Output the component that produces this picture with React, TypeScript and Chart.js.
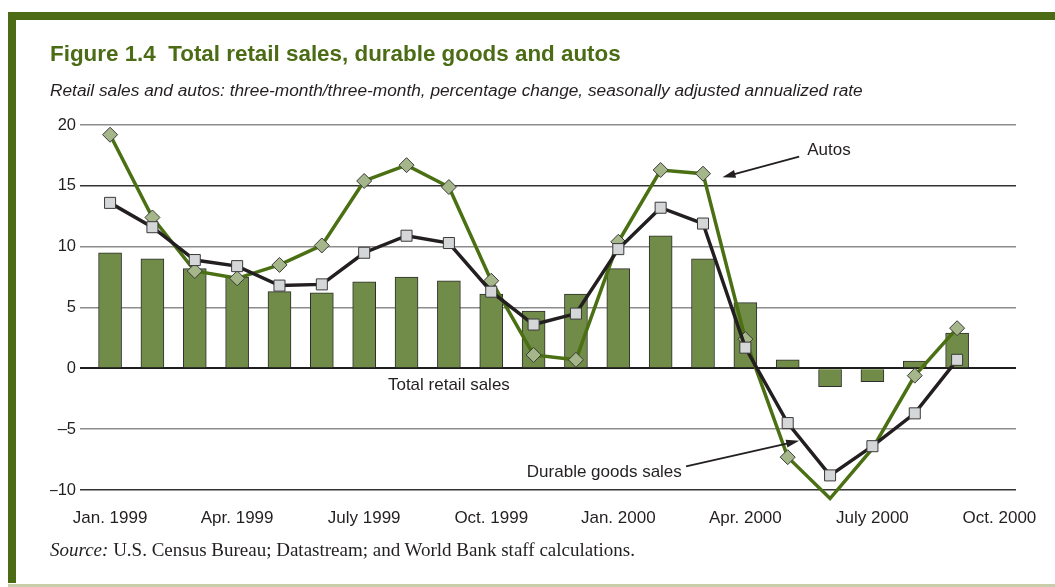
import React, { useEffect, useRef } from "react";
import { Chart, registerables } from "chart.js";

Chart.register(...registerables);

// Monthly observations, Jan. 1999 – Sep. 2000
const months = [
  "Jan. 1999", "Feb. 1999", "Mar. 1999", "Apr. 1999", "May 1999", "June 1999", "July 1999",
  "Aug. 1999", "Sep. 1999", "Oct. 1999", "Nov. 1999", "Dec. 1999", "Jan. 2000", "Feb. 2000",
  "Mar. 2000", "Apr. 2000", "May 2000", "June 2000", "July 2000", "Aug. 2000", "Sep. 2000",
];
const retailSales = [9.5, 9.0, 8.2, 7.5, 6.3, 6.2, 7.1, 7.5, 7.2, 6.1, 4.7, 6.1, 8.2, 10.9, 9.0, 5.4, 0.7, -1.5, -1.1, 0.6, 2.9];
const durableGoods = [13.6, 11.6, 8.9, 8.4, 6.8, 6.9, 9.5, 10.9, 10.3, 6.3, 3.6, 4.5, 9.8, 13.2, 11.9, 1.7, -4.5, -8.8, -6.4, -3.7, 0.7];
const autos = [19.2, 12.4, 8.0, 7.4, 8.5, 10.1, 15.4, 16.7, 14.9, 7.2, 1.1, 0.7, 10.4, 16.3, 16.0, 2.4, -7.3, -10.7, -6.6, -0.6, 3.3];
const autosHiddenMarkers = [17, 18];

const xTickMonths = [0, 3, 6, 9, 12, 15, 18, 21];
const xTickLabels = ["Jan. 1999", "Apr. 1999", "July 1999", "Oct. 1999", "Jan. 2000", "Apr. 2000", "July 2000", "Oct. 2000"];
const yTickValues = [-10, -5, 0, 5, 10, 15, 20];

const GREEN = "#4b6b14";
const TEXT = "#231f20";
const SANS = "'Liberation Sans', Arial, Helvetica, sans-serif";

const annotationPlugin = {
  id: "annotations",
  afterDraw(chart: any) {
    const { ctx, scales } = chart;
    const x = scales.x;
    const y = scales.y;
    const px = (v: number) => x.getPixelForValue(v);
    const py = (v: number) => y.getPixelForValue(v);
    ctx.save();
    ctx.fillStyle = TEXT;
    ctx.strokeStyle = TEXT;
    ctx.font = `17px ${SANS}`;
    ctx.textBaseline = "middle";

    const arrow = (x1: number, y1: number, x2: number, y2: number) => {
      const ax = px(x1), ay = py(y1), bx = px(x2), by = py(y2);
      const ang = Math.atan2(by - ay, bx - ax);
      const len = 13, half = 4;
      ctx.lineWidth = 1.8;
      ctx.beginPath();
      ctx.moveTo(ax, ay);
      ctx.lineTo(bx - Math.cos(ang) * len * 0.8, by - Math.sin(ang) * len * 0.8);
      ctx.stroke();
      ctx.beginPath();
      ctx.moveTo(bx, by);
      ctx.lineTo(bx - Math.cos(ang) * len - Math.sin(ang) * half, by - Math.sin(ang) * len + Math.cos(ang) * half);
      ctx.lineTo(bx - Math.cos(ang) * len + Math.sin(ang) * half, by - Math.sin(ang) * len - Math.cos(ang) * half);
      ctx.closePath();
      ctx.fill();
    };

    ctx.textAlign = "left";
    ctx.fillText("Autos", px(16.46), py(17.9));
    arrow(16.27, 17.4, 14.46, 15.7);

    ctx.textAlign = "center";
    ctx.fillText("Total retail sales", px(8.0), py(-1.4));
    ctx.fillText("Durable goods sales", px(11.67), py(-8.56));
    arrow(13.6, -8.05, 16.27, -5.95);
    ctx.restore();
  },
};

export default function App() {
  const ref = useRef<HTMLCanvasElement>(null);

  useEffect(() => {
    if (!ref.current) return;
    const toXY = (arr: number[]) => arr.map((v, i) => ({ x: i, y: v }));
    const chart = new Chart(ref.current, {
      type: "bar",
      data: {
        labels: months,
        datasets: [
          {
            type: "line",
            label: "Durable goods sales",
            data: toXY(durableGoods),
            order: 0,
            borderColor: TEXT,
            borderWidth: 3.5,
            tension: 0,
            pointStyle: "rect",
            pointRadius: 7.8,
            pointBackgroundColor: "#d5d6d8",
            pointBorderColor: "#3a3a3a",
            pointBorderWidth: 1,
            clip: false,
          } as any,
          {
            type: "line",
            label: "Autos",
            data: toXY(autos),
            order: 1,
            borderColor: "#4a7013",
            borderWidth: 3.5,
            tension: 0,
            pointStyle: "rectRot",
            pointRadius: (c: any) => (autosHiddenMarkers.includes(c.dataIndex) ? 0 : 7.5),
            pointBackgroundColor: "#a4b68a",
            pointBorderColor: "#3a3a3a",
            pointBorderWidth: 1,
            clip: false,
          } as any,
          {
            type: "bar",
            label: "Total retail sales",
            data: toXY(retailSales),
            order: 2,
            backgroundColor: "#718c48",
            borderColor: "#2e2e2e",
            borderWidth: 1,
            barThickness: 23,
          } as any,
        ],
      },
      options: {
        animation: false,
        responsive: false,
        events: [],
        layout: { padding: { left: 50, right: 38, top: 125, bottom: 0 } },
        plugins: {
          legend: { display: false },
          tooltip: { enabled: false },
          title: { display: false },
        },
        scales: {
          x: {
            type: "linear",
            min: -0.71,
            max: 21.39,
            offset: false,
            grid: { display: false, drawTicks: false },
            border: { display: false },
            afterBuildTicks: (axis: any) => {
              axis.ticks = xTickMonths.map((v) => ({ value: v }));
            },
            afterFit: (axis: any) => {
              axis.height = 97;
            },
            ticks: {
              autoSkip: false,
              maxRotation: 0,
              padding: 18,
              color: TEXT,
              font: { family: SANS, size: 17 },
              callback: (v: any) => {
                const i = xTickMonths.indexOf(Number(v));
                return i >= 0 ? xTickLabels[i] : "";
              },
            },
          },
          y: {
            type: "linear",
            min: -10,
            max: 20,
            afterBuildTicks: (axis: any) => {
              axis.ticks = yTickValues.map((v) => ({ value: v }));
            },
            afterFit: (axis: any) => {
              axis.width = 30;
            },
            border: { display: false },
            grid: {
              drawTicks: false,
              color: (c: any) => {
                const v = c.tick?.value;
                if (v === 0) return "#1e1e1e";
                if (v === 15 || v === -10) return "#333333";
                return "#8c8c8c";
              },
              lineWidth: (c: any) => (c.tick?.value === 0 ? 2 : 1.5),
            },
            ticks: {
              padding: 4,
              color: TEXT,
              font: { family: SANS, size: 16.5 },
              callback: (v: any) => (Number(v) < 0 ? "\u2013" + Math.abs(Number(v)) : String(v)),
            },
          },
        },
      },
      plugins: [annotationPlugin],
    } as any);
    return () => chart.destroy();
  }, []);

  return (
    <div style={{ position: "fixed", left: 0, top: 0, width: 1055, height: 587, background: "#fff", overflow: "hidden" }}>
      <div style={{ position: "absolute", left: 8, top: 12, right: 0, height: 8, background: GREEN }} />
      <div style={{ position: "absolute", left: 8, top: 12, width: 8, bottom: 4, background: GREEN }} />
      <div style={{ position: "absolute", left: 8, right: 0, bottom: 0, height: 3, background: "#c9cda9" }} />
      <canvas ref={ref} width={1055} height={587} style={{ position: "absolute", left: 0, top: 0 }} />
      <div
        style={{
          position: "absolute", left: 50, top: 42, lineHeight: "24px", whiteSpace: "nowrap",
          fontFamily: SANS, fontWeight: "bold", fontSize: 22.4, color: GREEN,
        }}
      >
        Figure 1.4&nbsp;&nbsp;Total retail sales, durable goods and autos
      </div>
      <div
        style={{
          position: "absolute", left: 50, top: 80, lineHeight: "20px", whiteSpace: "nowrap",
          fontFamily: SANS, fontStyle: "italic", fontSize: 17.3, color: TEXT,
        }}
      >
        Retail sales and autos: three-month/three-month, percentage change, seasonally adjusted annualized rate
      </div>
      <div
        style={{
          position: "absolute", left: 50, top: 540, lineHeight: "20px", whiteSpace: "nowrap",
          fontFamily: "'Liberation Serif', 'Times New Roman', serif", fontSize: 19, color: TEXT,
        }}
      >
        <i>Source:</i> U.S. Census Bureau; Datastream; and World Bank staff calculations.
      </div>
    </div>
  );
}
